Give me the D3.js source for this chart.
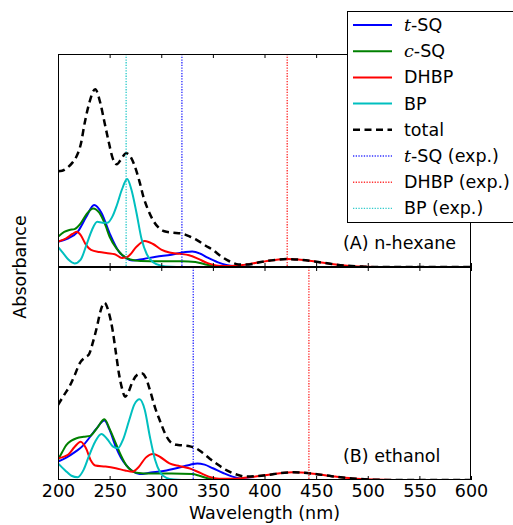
<!DOCTYPE html>
<html><head><meta charset="utf-8">
<script src="https://cdn.jsdelivr.net/npm/d3@7"></script>
<style>
body{margin:0;background:#fff;}
text{font-family:"DejaVu Sans",sans-serif;}
</style></head>
<body><svg id="c" width="513" height="525"></svg>
<script>
// ---- data (wavelength nm, relative absorbance) ----
const xTicks = [200,250,300,350,400,450,500,550,600];

// (A) n-hexane
const hexTSQ = [[200,0.119],[210,0.135],[219,0.165],[227,0.232],[235,0.291],[242,0.255],[250,0.158],[259,0.072],[266,0.042],[272,0.030],[283,0.038],[295,0.048],[310,0.058],[322,0.069],[330,0.073],[338,0.062],[345,0.044],[355,0.022],[363,0.010],[375,0.003],[390,0],[600,0]];
const hexCSQ = [[200,0.142],[206,0.165],[211,0.174],[216,0.178],[222,0.205],[228,0.250],[234,0.275],[240,0.255],[246,0.195],[250,0.142],[257,0.085],[262,0.058],[270,0.035],[280,0.028],[300,0.027],[320,0.027],[333,0.024],[342,0.013],[352,0.003],[365,0],[600,0]];
const hexDHBP = [[200,0.119],[208,0.135],[214,0.155],[218,0.165],[222,0.150],[227,0.105],[232,0.080],[240,0.070],[248,0.065],[255,0.060],[262,0.042],[268,0.050],[276,0.095],[284,0.122],[292,0.108],[300,0.082],[308,0.068],[318,0.062],[327,0.055],[336,0.038],[345,0.018],[355,0.006],[368,0.005],[380,0.010],[395,0.022],[410,0.033],[422,0.037],[435,0.034],[450,0.025],[465,0.014],[480,0.006],[495,0.002],[510,0],[600,0]];
const hexBP = [[200,0.095],[205,0.065],[210,0.035],[216,0.017],[222,0.035],[228,0.110],[233,0.175],[238,0.212],[243,0.208],[248,0.208],[253,0.240],[257,0.290],[262,0.365],[267,0.413],[271,0.365],[276,0.255],[281,0.130],[286,0.060],[292,0.022],[300,0.006],[310,0.001],[320,0],[600,0]];
const hexTotal = [[200,0.450],[204,0.452],[210,0.470],[214,0.490],[218,0.520],[222,0.575],[226,0.680],[230,0.765],[236,0.834],[241,0.770],[245,0.680],[249,0.590],[253,0.510],[257,0.482],[261,0.505],[266,0.534],[270,0.520],[274,0.478],[279,0.400],[283,0.325],[288,0.260],[293,0.212],[298,0.182],[303,0.168],[310,0.162],[320,0.157],[328,0.142],[335,0.125],[343,0.100],[350,0.080],[358,0.050],[366,0.027],[375,0.012],[385,0.012],[395,0.022],[410,0.033],[422,0.037],[435,0.034],[450,0.025],[465,0.014],[480,0.006],[495,0.002],[510,0],[600,0]];
const hexExp = {tSQ:320, DHBP:422, BP:266};

// (B) ethanol
const ethTSQ = [[200,0.086],[208,0.105],[217,0.133],[224,0.160],[230,0.196],[237,0.240],[245,0.279],[250,0.235],[256,0.156],[261,0.105],[266,0.070],[272,0.042],[279,0.028],[290,0.035],[305,0.045],[321,0.063],[328,0.072],[335,0.078],[342,0.072],[350,0.055],[360,0.033],[369,0.016],[380,0.004],[395,0],[600,0]];
const ethCSQ = [[200,0.094],[204,0.130],[208,0.164],[213,0.185],[218,0.196],[225,0.203],[231,0.207],[238,0.245],[245,0.285],[250,0.240],[256,0.172],[261,0.115],[266,0.070],[271,0.045],[276,0.034],[290,0.030],[310,0.030],[330,0.028],[337,0.020],[345,0.008],[355,0],[600,0]];
const ethDHBP = [[200,0.102],[210,0.120],[216,0.155],[222,0.180],[227,0.150],[232,0.090],[236,0.068],[246,0.063],[256,0.055],[265,0.045],[272,0.039],[278,0.060],[285,0.105],[292,0.122],[299,0.108],[308,0.078],[318,0.065],[327,0.055],[337,0.035],[346,0.016],[356,0.006],[370,0.006],[385,0.013],[400,0.022],[415,0.032],[428,0.036],[445,0.031],[465,0.018],[485,0.007],[505,0.002],[525,0],[600,0]];
const ethBP = [[200,0.078],[207,0.045],[213,0.020],[219,0.013],[225,0.050],[230,0.113],[236,0.180],[242,0.216],[248,0.190],[253,0.158],[258,0.149],[263,0.190],[269,0.282],[274,0.355],[279,0.379],[284,0.330],[289,0.203],[294,0.095],[299,0.035],[305,0.010],[312,0.002],[320,0],[600,0]];
const ethTotal = [[200,0.352],[206,0.400],[211,0.438],[216,0.490],[221,0.548],[226,0.575],[230,0.590],[234,0.650],[238,0.725],[241,0.790],[245,0.832],[249,0.790],[253,0.700],[256,0.600],[259,0.500],[262,0.430],[265,0.391],[268,0.410],[272,0.460],[277,0.495],[281,0.501],[285,0.480],[289,0.423],[294,0.340],[299,0.275],[304,0.215],[309,0.178],[315,0.165],[320,0.163],[328,0.158],[334,0.148],[340,0.128],[347,0.100],[354,0.075],[360,0.055],[367,0.037],[374,0.024],[382,0.016],[392,0.018],[405,0.025],[415,0.032],[428,0.036],[445,0.031],[465,0.018],[485,0.007],[505,0.002],[525,0],[600,0]];
const ethExp = {tSQ:331, DHBP:443};

const legendLabels = ["t-SQ","c-SQ","DHBP","BP","total","t-SQ (exp.)","DHBP (exp.)","BP (exp.)"];
const colors = {tSQ:"#0000ff", cSQ:"#008000", DHBP:"#ff0000", BP:"#00bfbf", total:"#000000"};

// ---- layout ----
const svg = d3.select("#c");
const L = 58, R = 471, T = 54, MID = 267, B = 480;
const x = d3.scaleLinear().domain([200,600]).range([L,R]);
const FS = 17.5;

const panels = [
  {y: d3.scaleLinear().domain([0,1]).range([MID,T]), top:T, bottom:MID,
   series:[[hexTSQ,colors.tSQ],[hexCSQ,colors.cSQ],[hexDHBP,colors.DHBP],[hexBP,colors.BP]],
   total:hexTotal, exp:[[hexExp.tSQ,colors.tSQ],[hexExp.DHBP,colors.DHBP],[hexExp.BP,colors.BP]],
   label:"(A) n-hexane", labelY:249, showTicks:false},
  {y: d3.scaleLinear().domain([0,1]).range([B,MID]), top:MID, bottom:B,
   series:[[ethTSQ,colors.tSQ],[ethCSQ,colors.cSQ],[ethDHBP,colors.DHBP],[ethBP,colors.BP]],
   total:ethTotal, exp:[[ethExp.tSQ,colors.tSQ],[ethExp.DHBP,colors.DHBP]],
   label:"(B) ethanol", labelY:461.5, showTicks:true}
];

panels.forEach((p,i) => {
  const g = svg.append("g");
  const cid = "clip"+i;
  svg.append("clipPath").attr("id",cid).append("rect")
    .attr("x",L).attr("y",p.top).attr("width",R-L).attr("height",p.bottom-p.top);
  const line = d3.line().x(d=>x(d[0])).y(d=>p.y(d[1])).curve(d3.curveMonotoneX);
  const cg = g.append("g").attr("clip-path",`url(#${cid})`);
  p.series.forEach(([data,col]) => {
    cg.append("path").attr("d",line(data)).attr("fill","none")
      .attr("stroke",col).attr("stroke-width",2).attr("stroke-linejoin","round");
  });
  cg.append("path").attr("d",line(p.total)).attr("fill","none")
    .attr("stroke","#000").attr("stroke-width",2.5).attr("stroke-dasharray","7,4.5");
  p.exp.forEach(([wl,col]) => {
    cg.append("line").attr("x1",x(wl)).attr("x2",x(wl)).attr("y1",p.top).attr("y2",p.bottom)
      .attr("stroke",col).attr("stroke-width",1.4).attr("stroke-opacity",0.8)
      .attr("stroke-dasharray","1.3,1.4");
  });
  // inward ticks bottom and top
  const axB = d3.axisBottom(x).tickValues(xTicks).tickSizeInner(-4).tickSizeOuter(0)
    .tickFormat(p.showTicks ? d3.format("d") : () => "");
  const gb = g.append("g").attr("transform",`translate(0,${p.bottom})`).call(axB);
  gb.select(".domain").remove();
  gb.selectAll("text").attr("font-size",FS).attr("font-family","DejaVu Sans").attr("fill","#000").attr("dy",null).attr("y",17);
  const axT = d3.axisTop(x).tickValues(xTicks).tickSizeInner(-4).tickSizeOuter(0).tickFormat(() => "");
  const gt = g.append("g").attr("transform",`translate(0,${p.top})`).call(axT);
  gt.select(".domain").remove();
  // frame
  g.append("rect").attr("x",L+0.5).attr("y",p.top+0.5).attr("width",R-L-1).attr("height",p.bottom-p.top-1)
    .attr("fill","none").attr("stroke","#000").attr("stroke-width",1);
  g.append("text").attr("x",343).attr("y",p.labelY).attr("font-size",FS).text(p.label);
});

// axis labels
svg.append("text").attr("x",(L+R)/2).attr("y",519).attr("text-anchor","middle")
  .attr("font-size",FS).text("Wavelength (nm)");
svg.append("text").attr("transform",`translate(25.5,${(T+B)/2}) rotate(-90)`)
  .attr("text-anchor","middle").attr("font-size",FS).text("Absorbance");

// legend
const lg = svg.append("g");
lg.append("rect").attr("x",347.5).attr("y",11.5).attr("width",200).attr("height",211)
  .attr("fill","#fff").attr("stroke","#000").attr("stroke-width",1);
const legendStyles = [
  {col:colors.tSQ, w:2, dash:null},
  {col:colors.cSQ, w:2, dash:null},
  {col:colors.DHBP, w:2, dash:null},
  {col:colors.BP, w:2, dash:null},
  {col:"#000", w:2.5, dash:"7,4.5"},
  {col:colors.tSQ, w:1.4, dash:"1.3,1.4", op:0.8},
  {col:colors.DHBP, w:1.4, dash:"1.3,1.4", op:0.8},
  {col:colors.BP, w:1.4, dash:"1.3,1.4", op:0.8}
];
legendLabels.forEach((lab,i) => {
  const cy = 25 + i*26.2;
  const s = legendStyles[i];
  lg.append("line").attr("x1",353).attr("x2",392).attr("y1",cy).attr("y2",cy)
    .attr("stroke",s.col).attr("stroke-width",s.w).attr("stroke-dasharray",s.dash)
    .attr("stroke-opacity",s.op||1);
  const t = lg.append("text").attr("x",404).attr("y",cy+6).attr("font-size",FS);
  const m = lab.match(/^([tc])(-.*)$/);
  if (m) {
    t.append("tspan").attr("font-family","DejaVu Serif").attr("font-style","italic").text(m[1]);
    t.append("tspan").text(m[2]);
  } else t.text(lab);
});
</script></body></html>
